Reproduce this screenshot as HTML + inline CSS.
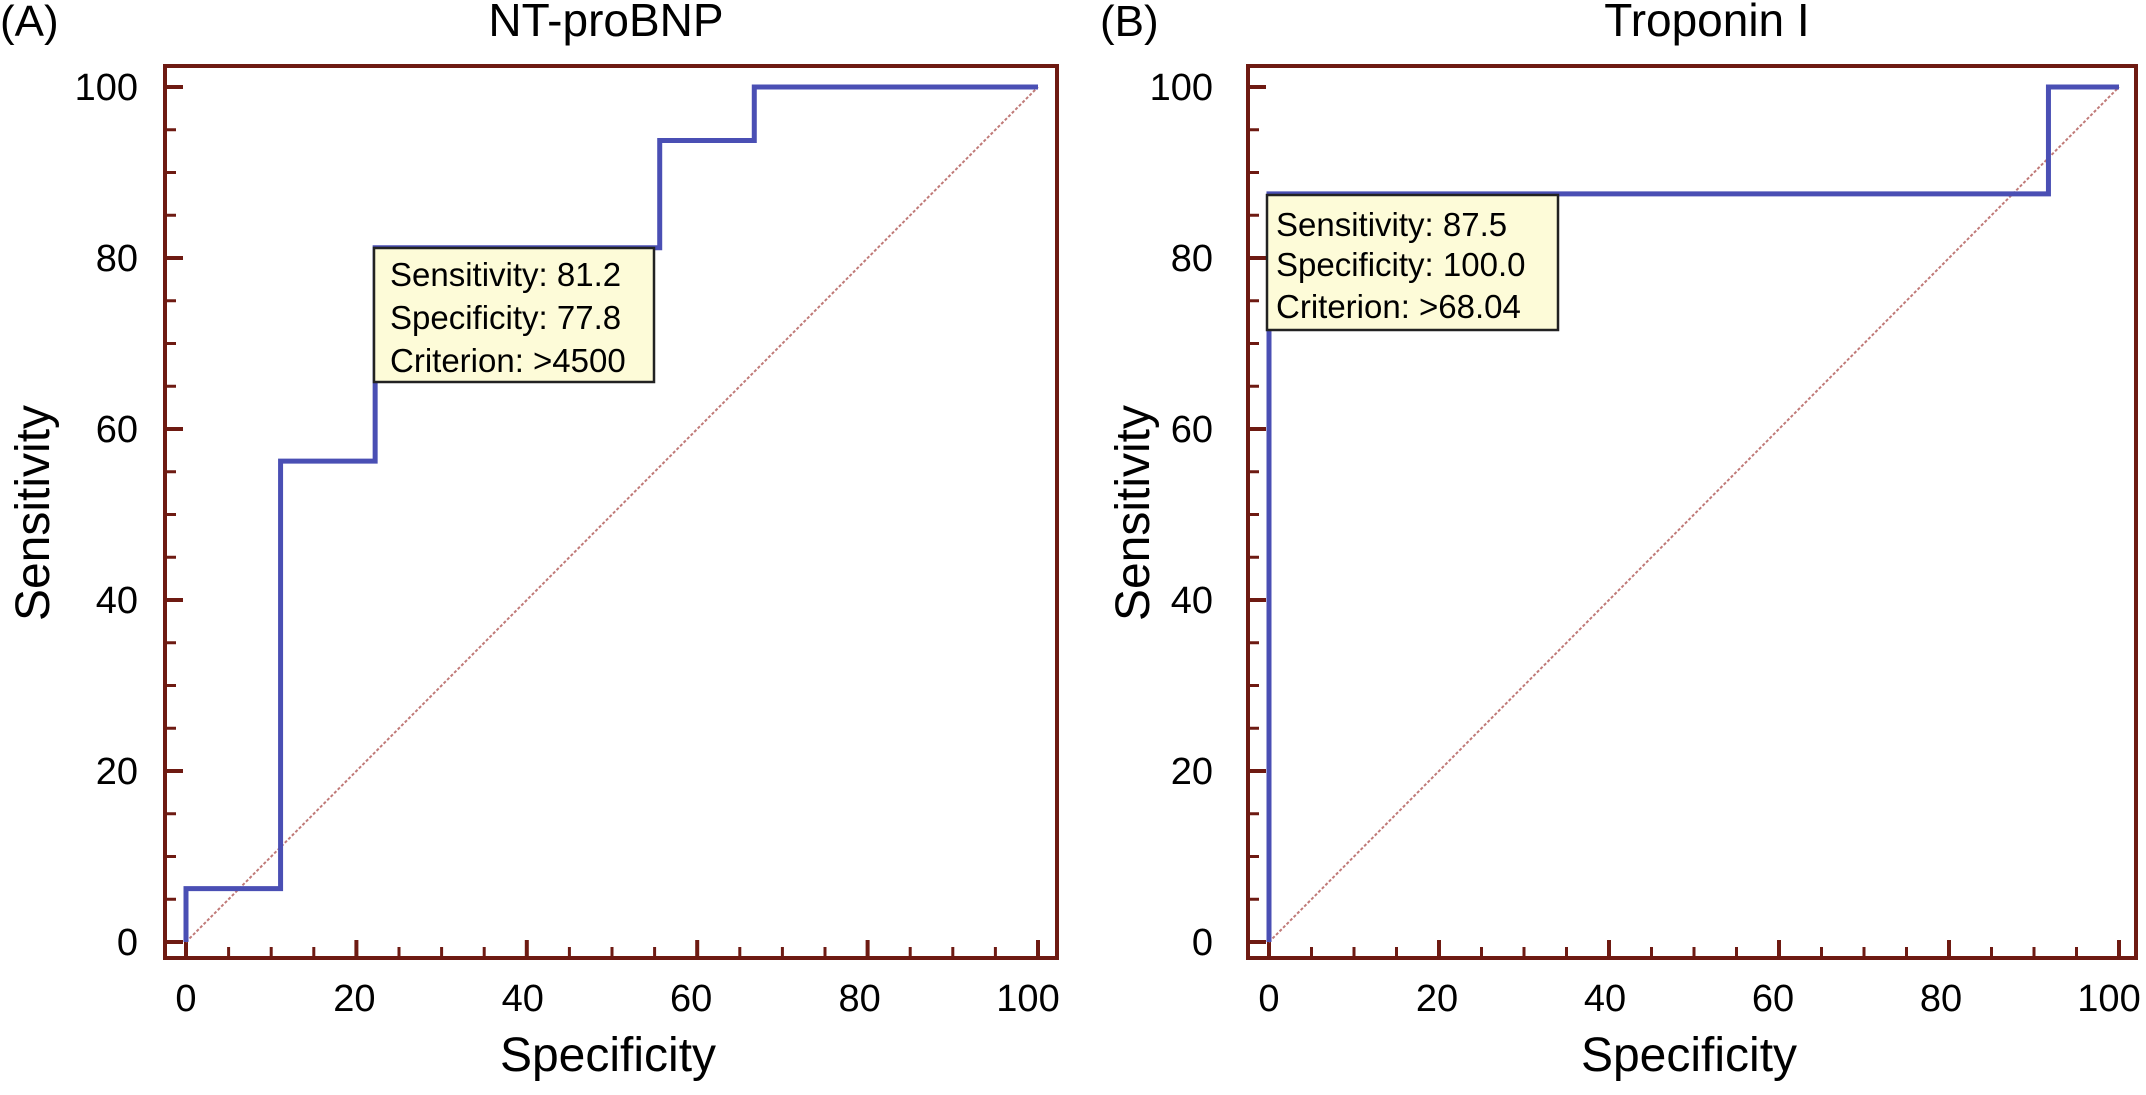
<!DOCTYPE html>
<html><head><meta charset="utf-8"><style>
html,body{margin:0;padding:0;background:#fff;}
svg{display:block;font-family:"Liberation Sans",Arial,sans-serif;}
</style></head><body>
<svg id="c" width="2146" height="1095" viewBox="0 0 2146 1095" xmlns="http://www.w3.org/2000/svg"></svg>
<script>
const panelIds = ["A", "B"];
const panelTitles = ["NT-proBNP", "Troponin I"];
const specA = [0, 0, 11.1, 11.1, 22.2, 22.2, 55.6, 55.6, 66.7, 66.7, 100];
const sensA = [0, 6.25, 6.25, 56.25, 56.25, 81.2, 81.2, 93.75, 93.75, 100, 100];
const specB = [0, 0, 91.7, 91.7, 100];
const sensB = [0, 87.5, 87.5, 100, 100];
const tooltipA = ["Sensitivity: 81.2", "Specificity: 77.8", "Criterion: >4500"];
const tooltipB = ["Sensitivity: 87.5", "Specificity: 100.0", "Criterion: >68.04"];
const tickLabels = [0, 20, 40, 60, 80, 100];

const NS = "http://www.w3.org/2000/svg";
const svg = document.getElementById("c");
function mk(tag, attrs, parent, text){
  const e = document.createElementNS(NS, tag);
  for (const k in attrs) e.setAttribute(k, attrs[k]);
  if (text !== undefined) e.textContent = text;
  (parent || svg).appendChild(e);
  return e;
}
const layouts = [
  {fl:165, fr:1057, x0:186, x1:1038, labR:138, labX:0, titleX:606, tip:[374,248,654,382], tipTx:390, tipBase:[286,329,372]},
  {fl:1248, fr:2136, x0:1269, x1:2119, labR:1213, labX:1100, titleX:1707, tip:[1267,195,1558,330], tipTx:1276, tipBase:[236,276,318]}
];
const specs = [specA, specB], sens = [sensA, sensB], tips = [tooltipA, tooltipB];
const FT = 66, FB = 958, Y0 = 942, Y100 = 87;
const red = "#6e1a12";

layouts.forEach((L, i) => {
  const g = mk("g", {});
  
  
  const xs = v => L.x0 + (L.x1 - L.x0) * v / 100;
  const ys = v => Y0 + (Y100 - Y0) * v / 100;

  const pl = mk("text", {x: L.labX, y: 36, "font-size": 44, fill: "#000"}, g, "(" + panelIds[i] + ")");
  
  
  const t = mk("text", {x: L.titleX, y: 36, "font-size": 46, "text-anchor": "middle", fill: "#000"}, g, panelTitles[i]);
  
  

  // ticks
  for (let v = 0; v <= 100; v += 5) {
    const major = v % 20 === 0;
    const len = major ? 18 : 11;
    const w = major ? 4 : 3;
    const ty = mk("line", {x1: L.fl, x2: L.fl + len, y1: ys(v), y2: ys(v), stroke: red, "stroke-width": w}, g);
    
    
    const tx = mk("line", {x1: xs(v), x2: xs(v), y1: FB, y2: FB - len, stroke: red, "stroke-width": w}, g);
    
    
  }
  tickLabels.forEach(v => {
    const yl = mk("text", {x: L.labR, y: ys(v) + 13, "font-size": 38, "text-anchor": "end", fill: "#000"}, g, String(v));
    
    
    const xl = mk("text", {x: xs(v) - v * 0.1, y: 1011, "font-size": 38, "text-anchor": "middle", fill: "#000"}, g, String(v));
    
    
  });

  const xt = mk("text", {x: (L.fl + L.fr) / 2 - 3, y: 1071, "font-size": 48, "text-anchor": "middle", fill: "#000"}, g, "Specificity");
  
  
  const yx = L.labX + 49, yy = 513;
  const yt = mk("text", {x: yx, y: yy, "font-size": 48, "text-anchor": "middle", fill: "#000", transform: `rotate(-90 ${yx} ${yy})`}, g, "Sensitivity");
  
  

  // diagonal reference
  const d = mk("line", {x1: xs(0), y1: ys(0), x2: xs(100), y2: ys(100), stroke: "#c07a78", "stroke-width": 2, "stroke-dasharray": "3 2"}, g);
  
  

  // roc curve
  const pts = specs[i].map((s, k) => xs(s) + "," + ys(sens[i][k])).join(" ");
  const c = mk("polyline", {points: pts, fill: "none", stroke: "#4a4fb4", "stroke-width": 5, "stroke-linejoin": "miter"}, g);
  
  

  // tooltip
  const T = L.tip;
  const tg = mk("g", {}, g);
  
  
  mk("rect", {x: T[0], y: T[1], width: T[2] - T[0], height: T[3] - T[1], fill: "#fdfbd8", stroke: "#222", "stroke-width": 2.5}, tg);
  tips[i].forEach((s, k) => {
    const tt = mk("text", {x: L.tipTx, y: L.tipBase[k], "font-size": 33, fill: "#000"}, tg, s);
    
    
  });

  // frame
  const f = mk("rect", {x: L.fl, y: FT, width: L.fr - L.fl, height: FB - FT, fill: "none", stroke: red, "stroke-width": 4}, g);
  
  
});
</script>
</body></html>
